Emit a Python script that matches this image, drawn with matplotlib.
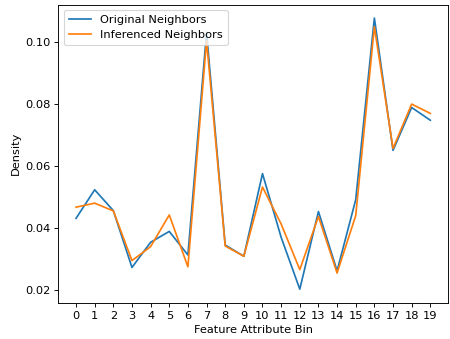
import matplotlib
matplotlib.use('Agg')
import matplotlib.pyplot as plt

bins = list(range(20))
original = [0.0431, 0.0523, 0.0456, 0.0273, 0.0354, 0.0389, 0.0313, 0.1030, 0.0345, 0.0309,
            0.0575, 0.0370, 0.0203, 0.0453, 0.0262, 0.0491, 0.1076, 0.0650, 0.0788, 0.0747]
inferenced = [0.0467, 0.0480, 0.0455, 0.0295, 0.0340, 0.0442, 0.0275, 0.1003, 0.0342, 0.0309,
              0.0532, 0.0413, 0.0266, 0.0437, 0.0255, 0.0440, 0.1048, 0.0656, 0.0799, 0.0769]

dpi = 82
fig = plt.figure(figsize=(450 / dpi, 339 / dpi), dpi=dpi)
ax = fig.add_axes([0.1296, 0.107, 0.866, 0.8797])
ax.plot(bins, original, label='Original Neighbors')
ax.plot(bins, inferenced, label='Inferenced Neighbors')
ax.set_xticks(bins)
ax.set_xlabel('Feature Attribute Bin')
ax.set_ylabel('Density')
ax.legend(loc='upper left')
fig.savefig('out.png', dpi=dpi)
